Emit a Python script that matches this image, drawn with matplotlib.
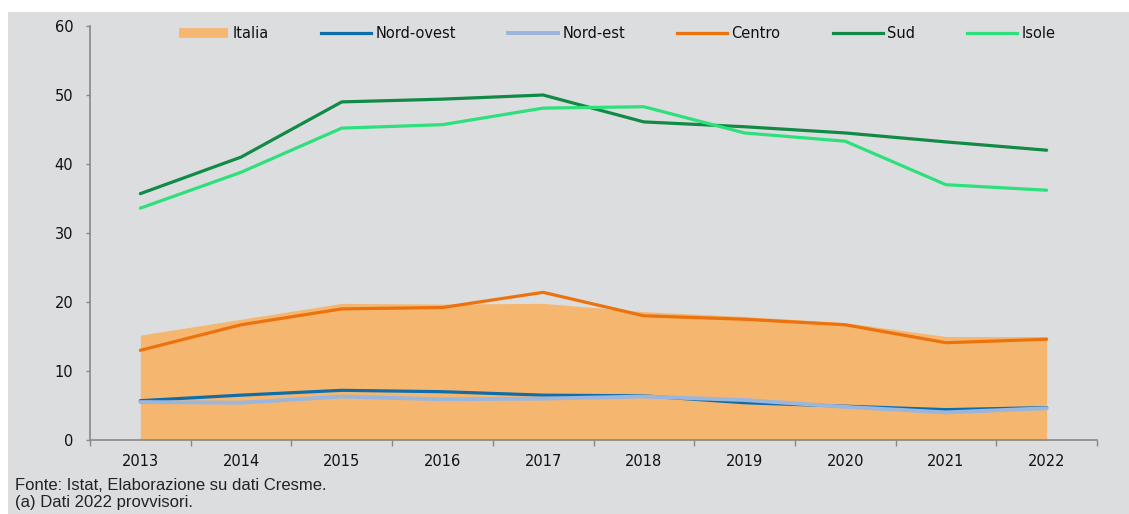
import matplotlib
matplotlib.use("Agg")
import matplotlib.pyplot as plt
from matplotlib.lines import Line2D
from matplotlib.patches import Rectangle
import numpy as np

years = ["2013", "2014", "2015", "2016", "2017", "2018", "2019", "2020", "2021", "2022"]
italia = [15.2, 17.5, 19.8, 19.7, 19.8, 18.6, 17.9, 17.0, 15.0, 15.0]
nord_ovest = [5.7, 6.5, 7.2, 7.0, 6.5, 6.4, 5.4, 4.9, 4.4, 4.7]
nord_est = [5.5, 5.4, 6.3, 5.9, 6.0, 6.3, 5.8, 4.8, 4.0, 4.6]
centro = [13.0, 16.7, 19.0, 19.2, 21.4, 18.0, 17.5, 16.7, 14.1, 14.6]
sud = [35.7, 41.0, 49.0, 49.4, 50.0, 46.1, 45.4, 44.5, 43.2, 42.0]
isole = [33.6, 38.8, 45.2, 45.7, 48.1, 48.3, 44.5, 43.3, 37.0, 36.2]
yticks = [0, 10, 20, 30, 40, 50, 60]

W, H = 1129, 514
fig = plt.figure(figsize=(W / 100, H / 100), dpi=100, facecolor="white")
bg = "#dcddde"
fig.patches.append(Rectangle((8 / W, 0), 1 - 8 / W, (H - 12) / H,
                             transform=fig.transFigure, facecolor=bg,
                             edgecolor="none", zorder=-10))

ax = fig.add_axes([90 / W, (H - 440) / H, (1097 - 90) / W, (440 - 26) / H])
ax.set_facecolor("none")
ax.set_zorder(5)

x = np.arange(len(years))
ax.fill_between(x, 0, italia, color="#f5b770", linewidth=0, zorder=1)
lw = 2.3
ax.plot(x, nord_ovest, color="#0f6ea9", lw=lw, zorder=3, solid_capstyle="round")
ax.plot(x, nord_est, color="#9ab6dc", lw=lw + 0.5, zorder=3.1, solid_capstyle="round")
ax.plot(x, centro, color="#ec720e", lw=lw, zorder=3, solid_capstyle="round")
ax.plot(x, sud, color="#118a46", lw=lw, zorder=3, solid_capstyle="round")
ax.plot(x, isole, color="#2ee07c", lw=lw, zorder=3, solid_capstyle="round")

ax.set_xlim(-0.5, len(years) - 0.5)
ax.set_ylim(0, 60)

fontname = "DejaVu Sans"
ax.set_xticks(x)
ax.set_xticklabels(years, fontsize=10.5, family=fontname, color="#111111")
ax.set_xticks(np.arange(-0.5, len(years)), minor=True)
ax.tick_params(axis="x", which="major", length=0, pad=10)
ax.tick_params(axis="x", which="minor", length=4, width=1, color="#888888", direction="out")
ax.set_yticks(yticks)
ax.set_yticklabels([str(v) for v in yticks], fontsize=10.5, family=fontname, color="#111111")
ax.tick_params(axis="y", length=3, width=1, color="#888888", pad=9)

for s in ["top", "right"]:
    ax.spines[s].set_visible(False)
for s in ["left", "bottom"]:
    ax.spines[s].set_color("#888888")
    ax.spines[s].set_linewidth(1.2)
    ax.spines[s].set_zorder(4)

handles = [
    Line2D([], [], color="#f5b770", lw=7, solid_capstyle="butt"),
    Line2D([], [], color="#0f6ea9", lw=lw),
    Line2D([], [], color="#9ab6dc", lw=lw + 0.5),
    Line2D([], [], color="#ec720e", lw=lw),
    Line2D([], [], color="#118a46", lw=lw),
    Line2D([], [], color="#2ee07c", lw=lw),
]
labels = ["Italia", "Nord-ovest", "Nord-est", "Centro", "Sud", "Isole"]
leg = ax.legend(handles, labels, ncol=6, loc="center",
                bbox_to_anchor=((617 - 90) / 1007, (440 - 34) / 414),
                frameon=False, prop={"family": fontname, "size": 10.5},
                handlelength=3.4, handletextpad=0.3, columnspacing=3.6,
                borderaxespad=0)
for t in leg.get_texts():
    t.set_color("#111111")

foot_font = ["Liberation Sans Narrow", "Liberation Sans"]
fig.text(15 / W, 1 - 485 / H, "Fonte: Istat, Elaborazione su dati Cresme.",
         fontsize=12, family=foot_font, color="#222222", va="center", ha="left")
fig.text(15 / W, 1 - 503 / H, "(a) Dati 2022 provvisori.",
         fontsize=12, family=foot_font, color="#222222", va="center", ha="left")

fig.savefig("out.png", dpi=100, facecolor="white")
